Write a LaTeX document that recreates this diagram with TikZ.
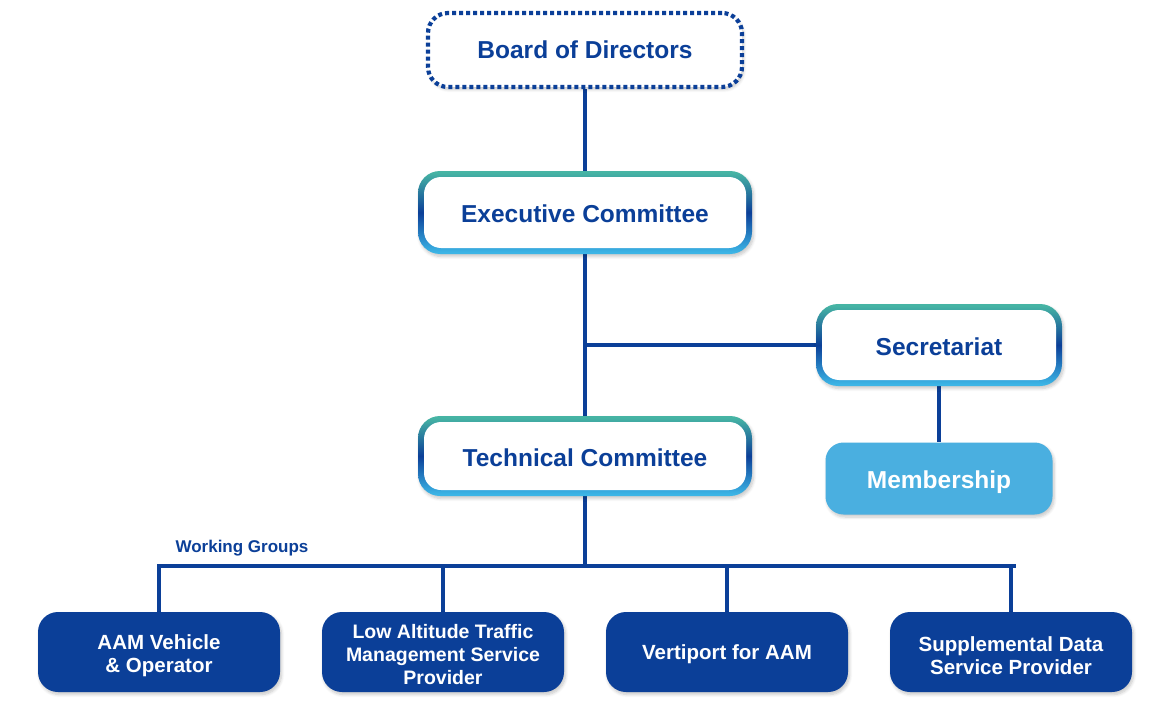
\documentclass[tikz,border=0pt]{standalone}
\usepackage{fontspec}
\setmainfont{Liberation Sans}
\usetikzlibrary{shadows.blur,backgrounds}
\definecolor{dblue}{HTML}{0B3F98}
\definecolor{teal1}{HTML}{46B4A4}
\definecolor{lblue}{HTML}{3CB5E6}
\definecolor{mfill}{HTML}{4AAFE0}
\pgfdeclareverticalshading{gradborder}{100bp}{color(0bp)=(lblue); color(26bp)=(lblue); color(50bp)=(dblue); color(74bp)=(teal1); color(100bp)=(teal1)}
\tikzset{
  shad/.style={blur shadow={shadow blur steps=6, shadow xshift=1.5pt, shadow yshift=-2.5pt, shadow opacity=22, shadow blur radius=3pt}},
  big/.style={font=\bfseries\fontsize{24.5}{28}\selectfont},
  low/.style={text height=20.5pt, text depth=0pt},
  small/.style={font=\bfseries\fontsize{20.5}{23}\selectfont, align=center},
  dotbox/.style={draw=dblue, line width=4.2pt, dash pattern=on 4pt off 3pt, rounded corners=20pt, fill=white, text=dblue, big, shad},
  gradouter/.style={rounded corners=22pt, shading=gradborder, shad},
  gradinner/.style={rounded corners=17pt, fill=white, text=dblue, big, low},
  membbox/.style={rounded corners=18pt, fill=mfill, text=white, big, low, shad},
  wgbox/.style={rounded corners=20pt, fill=dblue, shad, minimum width=242pt, minimum height=80pt, inner sep=0pt},
  wgtext/.style={text=white, small, inner sep=0pt},
  conn/.style={draw=dblue, line width=4pt},
}
\begin{document}
\begin{tikzpicture}[x=1pt,y=-1pt]
\useasboundingbox (0,0) rectangle (1170,706);
% Board
\node[dotbox, minimum width=314pt, minimum height=74pt] (board) at (585,50) {Board of Directors};
% Executive
\node[gradouter, minimum width=334pt, minimum height=83pt] (exec) at (585,212.5) {};
\node[gradinner, minimum width=322pt, minimum height=71pt] (execin) at (exec) {Executive Committee};
% Secretariat
\node[gradouter, minimum width=246pt, minimum height=82pt] (sec) at (939,345) {};
\node[gradinner, minimum width=234pt, minimum height=70pt] (secin) at (sec) {Secretariat};
% Membership
\node[membbox, minimum width=227pt, minimum height=72pt] (memb) at (939,478.5) {Membership};
% Technical
\node[gradouter, minimum width=334pt, minimum height=80pt] (tech) at (585,456) {};
\node[gradinner, minimum width=322pt, minimum height=68pt] (techin) at (tech) {Technical Committee};
% Working groups label
\node[text=dblue, font=\bfseries\fontsize{17}{20}\selectfont] (wglabel) at (242,548) {Working Groups};
% Working group boxes
\node[wgbox] (wg1) at (159,652) {};
\node[wgbox] (wg2) at (443,652) {};
\node[wgbox] (wg3) at (727,652) {};
\node[wgbox] (wg4) at (1011,652) {};
\node[wgtext] (wg1t) at ([yshift=-3.5pt]wg1.center) {AAM Vehicle\\\& Operator};
\node[wgtext, font=\bfseries\fontsize{19.5}{23}\selectfont] (wg2t) at ([yshift=-2.5pt]wg2.center) {Low Altitude Traffic\\Management Service\\Provider};
\node[wgtext] (wg3t) at ([yshift=-2.5pt]wg3.center) {Vertiport for AAM};
\node[wgtext] (wg4t) at ([yshift=-3.5pt]wg4.center) {Supplemental Data\\Service Provider};
% coordinates
\coordinate (j1) at (exec.south |- sec.west);
\coordinate (bus) at (585,566);
\coordinate (busL) at (wg1.north |- bus);
\coordinate (busR) at ([xshift=3pt]wg4.north |- bus);
\begin{scope}[on background layer]
\draw[conn] (board.south) -- (exec.north);
\draw[conn] (exec.south) -- (tech.north);
\draw[conn] (j1) -- (sec.west);
\draw[conn] (sec.south) -- (memb.north);
\draw[conn] (tech.south) -- (tech.south |- bus);
\draw[conn, line cap=rect] (busL) -- (busR);
\draw[conn] (busL) -- (wg1.north);
\draw[conn] (wg2.north |- bus) -- (wg2.north);
\draw[conn] (wg3.north |- bus) -- (wg3.north);
\draw[conn] (wg4.north |- bus) -- (wg4.north);
\end{scope}
\end{tikzpicture}
\end{document}
